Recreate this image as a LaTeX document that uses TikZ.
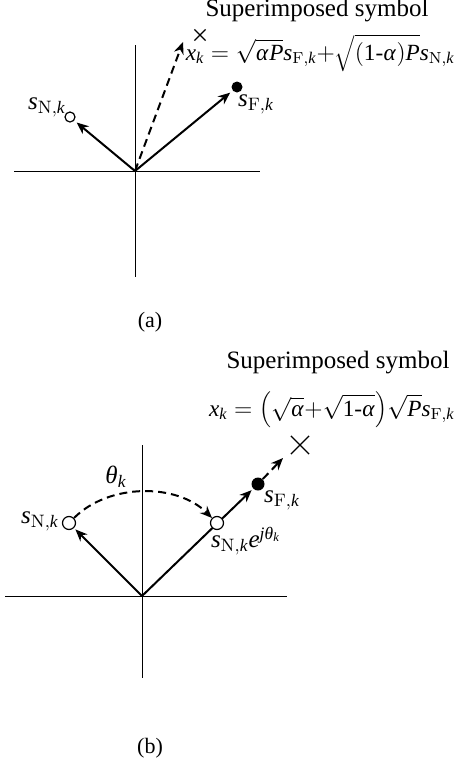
\documentclass[tikz,border=0pt]{standalone}
\usepackage{mathspec}
\setmainfont{Liberation Serif}
\setmathsfont(Digits,Latin,Greek){Liberation Serif}
\usetikzlibrary{positioning,arrows.meta,shapes.misc}

\begin{document}
\begin{tikzpicture}[
  x=0.5pt, y=-0.5pt,
  font=\fontsize{12.5}{15}\selectfont,
  eje/.style={line width=0.5pt},
  flecha/.style={-{Stealth[length=6pt,width=5pt]}, line width=1pt},
  discont/.style={dash pattern=on 4pt off 2.5pt},
  vacio/.style={circle, draw, fill=white, line width=0.6pt, inner sep=0pt, minimum size=#1},
  lleno/.style={circle, fill=black, inner sep=0pt, minimum size=#1},
  cruz/.style={cross out, draw, line width=0.6pt, inner sep=0pt, minimum size=#1},
  etiq/.style={inner sep=0pt},
  ecuac/.style={inner sep=0pt, anchor=east, font=\fontsize{11.6}{14}\selectfont},
  pie/.style={font=\fontsize{11}{13}\selectfont}
]
  \useasboundingbox (0,0) rectangle (457,766);

  % (a) superposicion
  \coordinate (o1) at (135,171);
  \draw[eje] (14,171) -- (260,171);
  \draw[eje] (135,45) -- (135,277);
  \node[vacio=5pt] (sn1) at (70,117) {};
  \node[lleno=5.5pt] (sf1) at (237,87) {};
  \node[cruz=5pt] (x1) at (200,35) {};
  \coordinate (p1) at (183,42);
  \draw[flecha, shorten >=1.5pt] (o1) -- (sn1);
  \draw[flecha, shorten >=1.5pt] (o1) -- (sf1);
  \draw[flecha, discont] (o1) -- (p1);
  \node[etiq] (lsn1) at (47,107) {$s_{\mathrm{N},k}$};
  \node[etiq] (lsf1) at (256,104) {$s_{\mathrm{F},k}$};
  \node[etiq] (tit1) at (317,11) {Superimposed symbol};
  \node[ecuac] (ec1) at (455,53) {$x_k=\sqrt{\alpha P}s_{\mathrm{F},k}{+}\sqrt{(1\text{-}\alpha)P}s_{\mathrm{N},k}$};
  \node[pie] (capa) at (150,322) {(a)};

  % (b) rotacion de fase
  \coordinate (o2) at (142,596);
  \draw[eje] (5,596) -- (287,596);
  \draw[eje] (142,445) -- (142,678);
  \node[vacio=6.5pt] (sn2) at (69,523) {};
  \node[lleno=6.5pt] (sf2) at (258,484) {};
  \node[cruz=8.5pt] (x2) at (300,445) {};
  \coordinate (p2) at (283,458);
  \draw[flecha, shorten >=1pt] (o2) -- (sn2);
  \draw[flecha, shorten >=1pt] (o2) -- (sf2);
  \node[vacio=6.5pt] (sne) at (217,523) {};
  \draw[flecha, discont] (sf2) -- (p2);
  \draw[flecha, discont] (sn2) .. controls +(40,-40) and +(-40,-40) .. (sne);
  \node[etiq] (lsn2) at (40,521) {$s_{\mathrm{N},k}$};
  \node[etiq] (lsne) at (246,541) {$s_{\mathrm{N},k}e^{j\theta_k}$};
  \node[etiq] (lth) at (116,477) {$\theta_k$};
  \node[etiq] (lsf2) at (282,500) {$s_{\mathrm{F},k}$};
  \node[etiq] (tit2) at (338,363) {Superimposed symbol};
  \node[ecuac] (ec2) at (455,410) {$x_k=\Bigl(\sqrt{\alpha}{+}\sqrt{1\text{-}\alpha}\Bigr)\sqrt{P}s_{\mathrm{F},k}$};
  \node[pie] (capb) at (150,748) {(b)};
\end{tikzpicture}
\end{document}
